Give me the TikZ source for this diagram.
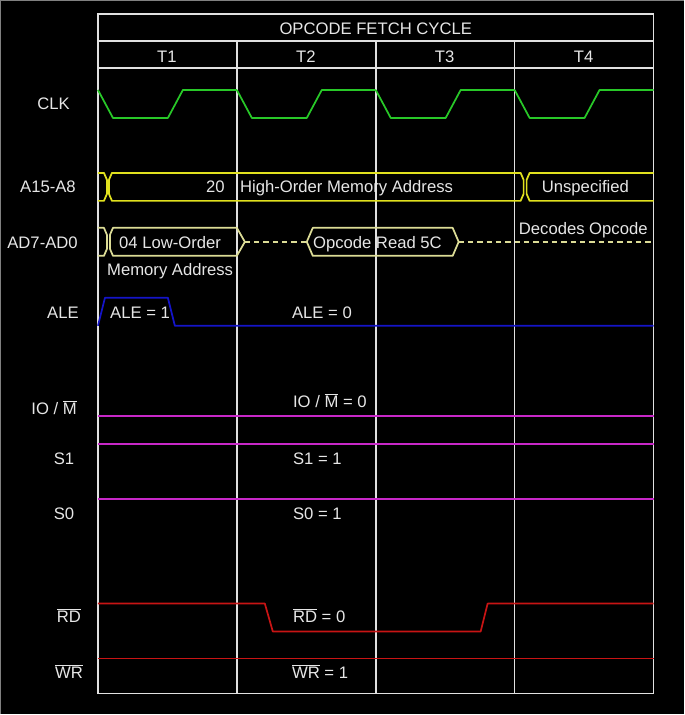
\documentclass[tikz,border=0pt]{standalone}
\usepackage{fontspec}
\setmainfont{Liberation Sans}
\definecolor{gridc}{RGB}{225,225,225}
\definecolor{txtc}{RGB}{230,230,230}
\definecolor{clkc}{RGB}{40,200,40}
\definecolor{abusc}{RGB}{225,225,30}
\definecolor{dbusc}{RGB}{220,220,150}
\definecolor{alec}{RGB}{20,20,200}
\definecolor{statc}{RGB}{200,40,200}
\definecolor{rdc}{RGB}{200,20,20}
\begin{document}
\begin{tikzpicture}[x=0.75pt,y=-0.75pt,
	grid/.style={draw=gridc,line width=1.2pt},
	wave/.style={line width=1.3pt,line join=round},
	txt/.style={text=txtc,inner sep=0pt,font=\fontsize{12.5}{14}\selectfont}]
	% background and frame
	\fill[black](0,0) rectangle (684,715);
	\draw[gray,line width=0.8pt](0.5,715)--(0.5,0.5)--(684,0.5);
	% table
	\draw[grid](98,14) rectangle (654,694);
	\draw[grid](98,41)--(654,41);
	\draw[grid](98,68)--(654,68);
	\foreach \x in {237,376,515}
		\draw[grid](\x,41)--(\x,694);
	\node[txt,anchor=base](title) at (376,34.5){OPCODE FETCH CYCLE};
	\foreach \i in {1,...,4}
		\node[txt,anchor=base](T\i) at (98+139*\i-70,63){T\i};
	% signal names
	\node[txt,anchor=base east](clk) at (70,110){CLK};
	\node[txt,anchor=base east](ahi) at (76,193){A15-A8};
	\node[txt,anchor=base east](alo) at (78,249){AD7-AD0};
	\node[txt,anchor=base east](ale) at (79,319){ALE};
	\node[txt,anchor=base east](iom) at (77,415){IO / $\overline{\mbox{M}}$};
	\node[txt,anchor=base](sone) at (64,465){S1};
	\node[txt,anchor=base](szero) at (64,520){S0};
	\node[txt,anchor=base](rd) at (69,623){$\overline{\mbox{RD}}$};
	\node[txt,anchor=base](wr) at (69,679){$\overline{\mbox{WR}}$};
	% CLK
	\foreach \x in {98,237,376,515}
		\draw[wave,clkc](\x,90)--(\x+15,118)--(\x+70,118)--(\x+85,90)--(\x+139,90);
	% A15-A8
	\draw[wave,abusc](98,173)--(104,173)--(107,180)--(107,194)--(104,201)--(98,201);
	\draw[wave,abusc](112,173)--(521,173)--(524,180)--(524,194)--(521,201)--(112,201)--(109,194)--(109,180)--cycle;
	\draw[wave,abusc](654,173)--(530,173)--(527,180)--(527,194)--(530,201)--(654,201);
	\node[txt,anchor=base east](hinum) at (225,193){20};
	\node[txt,anchor=base west](hiaddr) at (240,193){High-Order Memory Address};
	\node[txt,anchor=base west](unspec) at (542,193){Unspecified};
	% AD7-AD0
	\draw[wave,dbusc](98,228)--(104,228)--(107,235)--(107,249)--(104,256)--(98,256);
	\draw[wave,dbusc](113,228)--(237,228)--(245,242)--(237,256)--(113,256)--(110,249)--(110,235)--cycle;
	\draw[wave,dbusc,dash pattern=on 4pt off 3pt](245,242)--(307,242);
	\draw[wave,dbusc](307,242)--(313,228)--(453,228)--(459,242)--(453,256)--(313,256)--cycle;
	\draw[wave,dbusc,dash pattern=on 4pt off 3pt](459,242)--(654,242);
	\node[txt,anchor=base west](loaddr) at (119,249){04 Low-Order};
	\node[txt,anchor=base west](memaddr) at (107,276){Memory Address};
	\node[txt,anchor=base west](opread) at (313,249){Opcode Read 5C};
	\node[txt,anchor=base west](decode) at (519,235){Decodes Opcode};
	% ALE
	\draw[wave,alec](98,326)--(105,298)--(168,298)--(175,326)--(654,326);
	\node[txt,anchor=base west](aleone) at (110,319){ALE = 1};
	\node[txt,anchor=base west](alezero) at (292,319){ALE = 0};
	% IO/M, S1, S0
	\foreach \y in {416,444,499}
		\draw[wave,statc](98,\y)--(654,\y);
	\node[txt,anchor=base west](iomval) at (293,408){IO / $\overline{\mbox{M}}$ = 0};
	\node[txt,anchor=base west](soneval) at (293,465){S1 = 1};
	\node[txt,anchor=base west](szeroval) at (293,520){S0 = 1};
	% RD, WR
	\draw[wave,rdc](98,604)--(265,604)--(273,632)--(481,632)--(488,604)--(654,604);
	\draw[wave,rdc](98,659)--(654,659);
	\node[txt,anchor=base west](rdval) at (293,623){$\overline{\mbox{RD}}$ = 0};
	\node[txt,anchor=base west](wrval) at (292,679){$\overline{\mbox{WR}}$ = 1};
\end{tikzpicture}
\end{document}
